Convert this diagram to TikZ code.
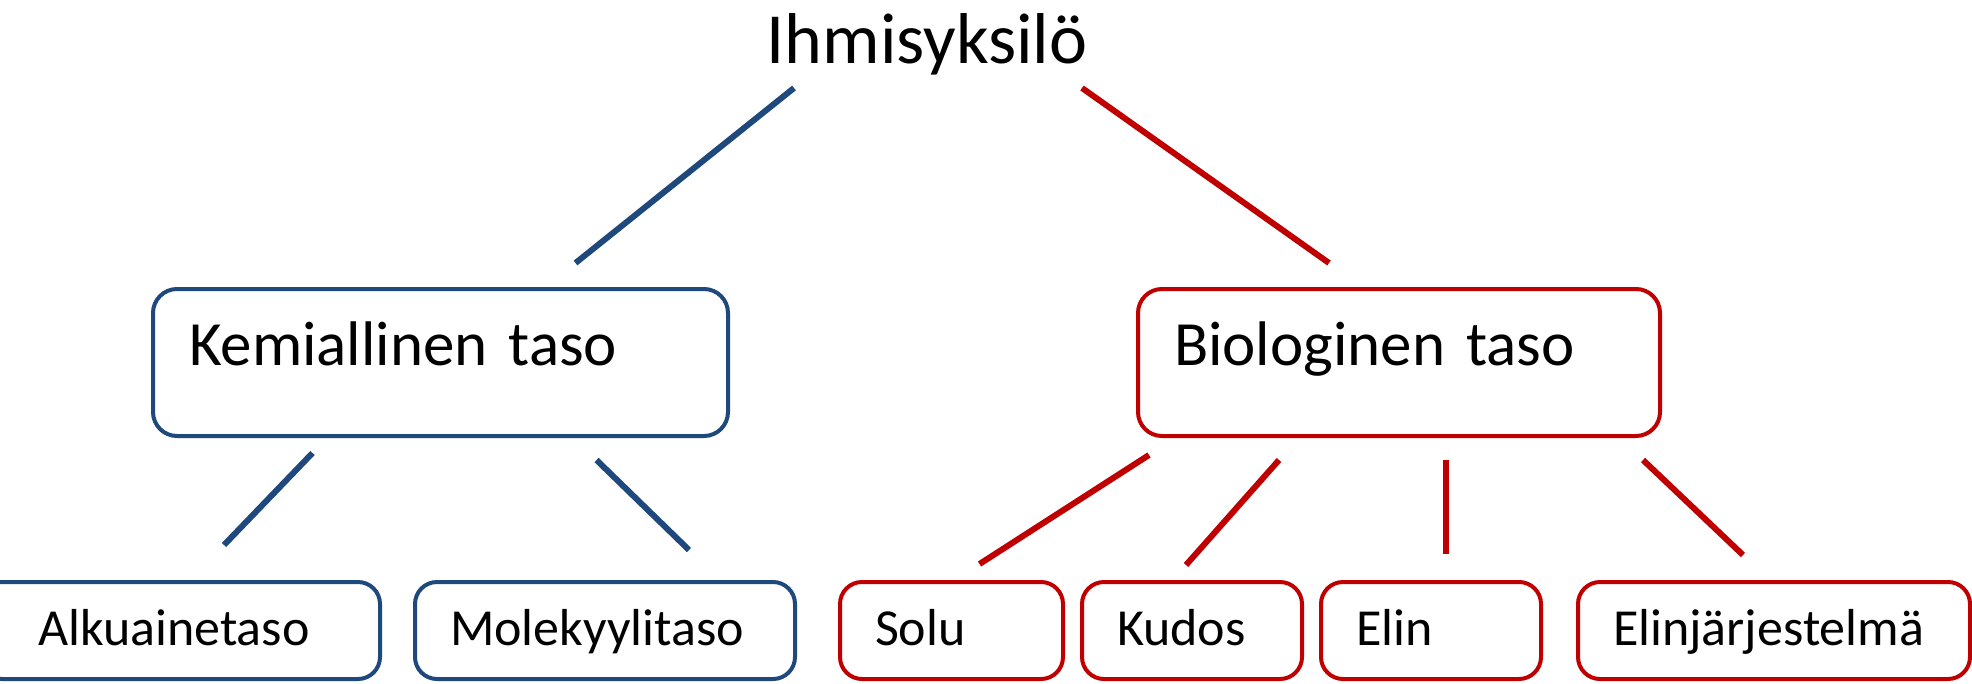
\documentclass[tikz,border=0pt]{standalone}
\usepackage{fontspec}
\setmainfont{Carlito}
\usepackage{tikz}
\usetikzlibrary{positioning}
\definecolor{colBlue}{RGB}{31,73,125}
\definecolor{colRed}{RGB}{192,0,0}
\tikzset{
    levelbox/.style={rectangle, rounded corners=24pt, line width=4pt, anchor=north west,
        outer sep=0pt, inner xsep=36pt, inner ysep=0pt, text height=76pt, text depth=71pt,
        align=left, font=\fontsize{63pt}{70pt}\selectfont},
    leafbox/.style={rectangle, rounded corners=22pt, line width=4pt, outer sep=0pt,
        inner xsep=35pt, inner ysep=0pt, text height=63pt, text depth=34pt,
        align=left, font=\fontsize{52pt}{58pt}\selectfont},
    bluelink/.style={draw=colBlue, line width=6pt},
    redlink/.style={draw=colRed, line width=6pt}
}

\begin{document}
\begin{tikzpicture}[x=1pt, y=-1pt, node distance=35pt]

    \useasboundingbox (0,0) rectangle (1972,683);

    \node[anchor=base, inner sep=0pt, font=\fontsize{72pt}{80pt}\selectfont] (title) at (927,63) {Ihmisyksilö};

    \node[levelbox, draw=colBlue, text width=503pt] (kem) at (153,289) {Kemiallinen taso};
    \node[levelbox, draw=colRed, text width=450pt] (bio) at (1138,289) {Biologinen taso};

    % lower row
    \node[leafbox, draw=colBlue, anchor=north west, inner xsep=58pt, text width=284pt] (alku) at (-20,582) {Alkuainetaso};
    \node[leafbox, draw=colBlue, text width=310pt, right=35pt of alku] (molek) {Molekyylitaso};
    \node[leafbox, draw=colRed, text width=153pt, right=45pt of molek] (solu) {Solu};
    \node[leafbox, draw=colRed, text width=150pt, right=19pt of solu] (kudos) {Kudos};
    \node[leafbox, draw=colRed, text width=150pt, right=19pt of kudos] (elin) {Elin};
    \node[leafbox, draw=colRed, text width=322pt, right=37pt of elin] (elinj) {Elinjärjestelmä};

    \draw[bluelink] ([shift={(-133,25)}]title.base) -- ([shift={(135,-26)}]kem.north);
    \draw[redlink] ([shift={(155,25)}]title.base) -- ([shift={(-70,-26)}]bio.north);

    \draw[bluelink] ([shift={(-128,17)}]kem.south) -- ([shift={(44,-37)}]alku.north);
    \draw[bluelink] ([shift={(156,24)}]kem.south) -- ([shift={(84,-32)}]molek.north);

    \draw[redlink] ([shift={(-250,19)}]bio.south) -- ([shift={(28,-18)}]solu.north);
    \draw[redlink] ([shift={(-120,24)}]bio.south) -- ([shift={(-6,-17)}]kudos.north);
    \draw[redlink] ([shift={(47,24)}]bio.south) -- ([shift={(15,-28)}]elin.north);
    \draw[redlink] ([shift={(244,24)}]bio.south) -- ([shift={(-31,-27)}]elinj.north);

\end{tikzpicture}
\end{document}
